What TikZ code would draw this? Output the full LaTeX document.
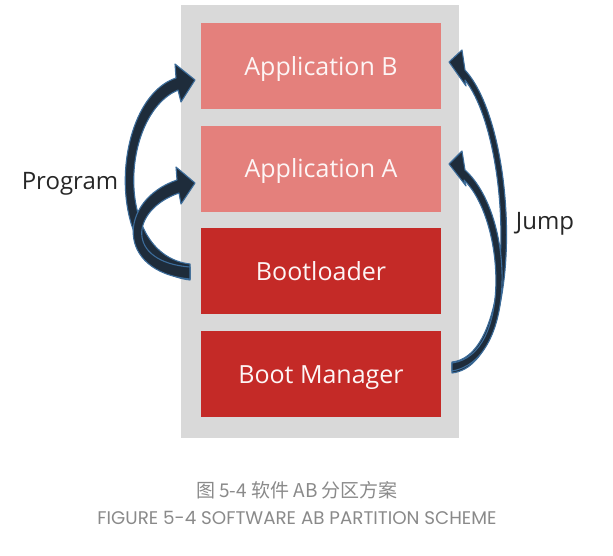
\documentclass[tikz,border=0pt]{standalone}
\usepackage{fontspec}
\setmainfont{Open Sans}
\newfontfamily\cjk{Noto Sans CJK SC}
\newfontfamily\capfont{Poppins}
\definecolor{lightred}{HTML}{E4807C}
\definecolor{darkred}{HTML}{C42A27}
\definecolor{panel}{HTML}{D9D9D9}
\definecolor{navy}{HTML}{1E2C3B}
\definecolor{edgeblue}{HTML}{3C6C9A}
\definecolor{capgray}{HTML}{8A8A8A}
\begin{document}
\begin{tikzpicture}[x=1pt,y=-1pt,
  part/.style={rectangle, minimum width=240pt, minimum height=86pt, inner sep=0pt,
    text height=18pt, text depth=0pt,
    text=white!92!lightred, font=\fontsize{25}{30}\selectfont},
  curvedarrow/.style={fill=navy, draw=edgeblue, line width=1.1pt, line join=round},
  sidelabel/.style={anchor=base, text=black!85, font=\fontsize{24}{28}\selectfont}]
\useasboundingbox (0,0) rectangle (613,555);
\fill[panel] (181,5) rectangle (459,438);
\node[part, fill=lightred] (appb) at (321,66) {Application B};
\node[part, fill=lightred] (appa) at (321,168.5) {Application A};
\node[part, fill=darkred] (boot) at (321,271) {Bootloader};
\node[part, fill=darkred] (bm) at (321,374) {Boot Manager};
% Program arrows
\draw[curvedarrow] (190,280) .. controls (102,270) and (110,100) .. (176,78)
  -- (175,64) -- (195,80) -- (181,102) -- (178,90)
  .. controls (120,115) and (114,255) .. (190,264) -- cycle;
\draw[curvedarrow] (190,279) .. controls (115,272) and (118,200) .. (177,180)
  -- (176,167) -- (195,183) -- (181,204) -- (179,193)
  .. controls (130,210) and (125,262) .. (190,267) -- cycle;
% Jump arrows
\draw[curvedarrow] (452,373) .. controls (525,365) and (520,130) .. (465,70)
  -- (462,50) -- (449,62) -- (466,86) -- (465,80)
  .. controls (512,140) and (518,355) .. (452,362) -- cycle;
\draw[curvedarrow] (452,371) .. controls (518,360) and (515,215) .. (465,170)
  -- (462,151) -- (449,164) -- (466,186) -- (464,180)
  .. controls (505,220) and (512,355) .. (452,363) -- cycle;
\node[sidelabel] (prog) at (70,189) {Program};
\node[sidelabel] (jump) at (545,229) {Jump};
\node[text=capgray, font=\cjk\fontsize{19}{23}\selectfont] (cap1) at (297,490) {图 5-4 软件 AB 分区方案};
\node[text=capgray, font=\capfont\fontsize{18.3}{22}\selectfont] (cap2) at (297,518) {FIGURE 5-4 SOFTWARE AB PARTITION SCHEME};
\end{tikzpicture}
\end{document}
